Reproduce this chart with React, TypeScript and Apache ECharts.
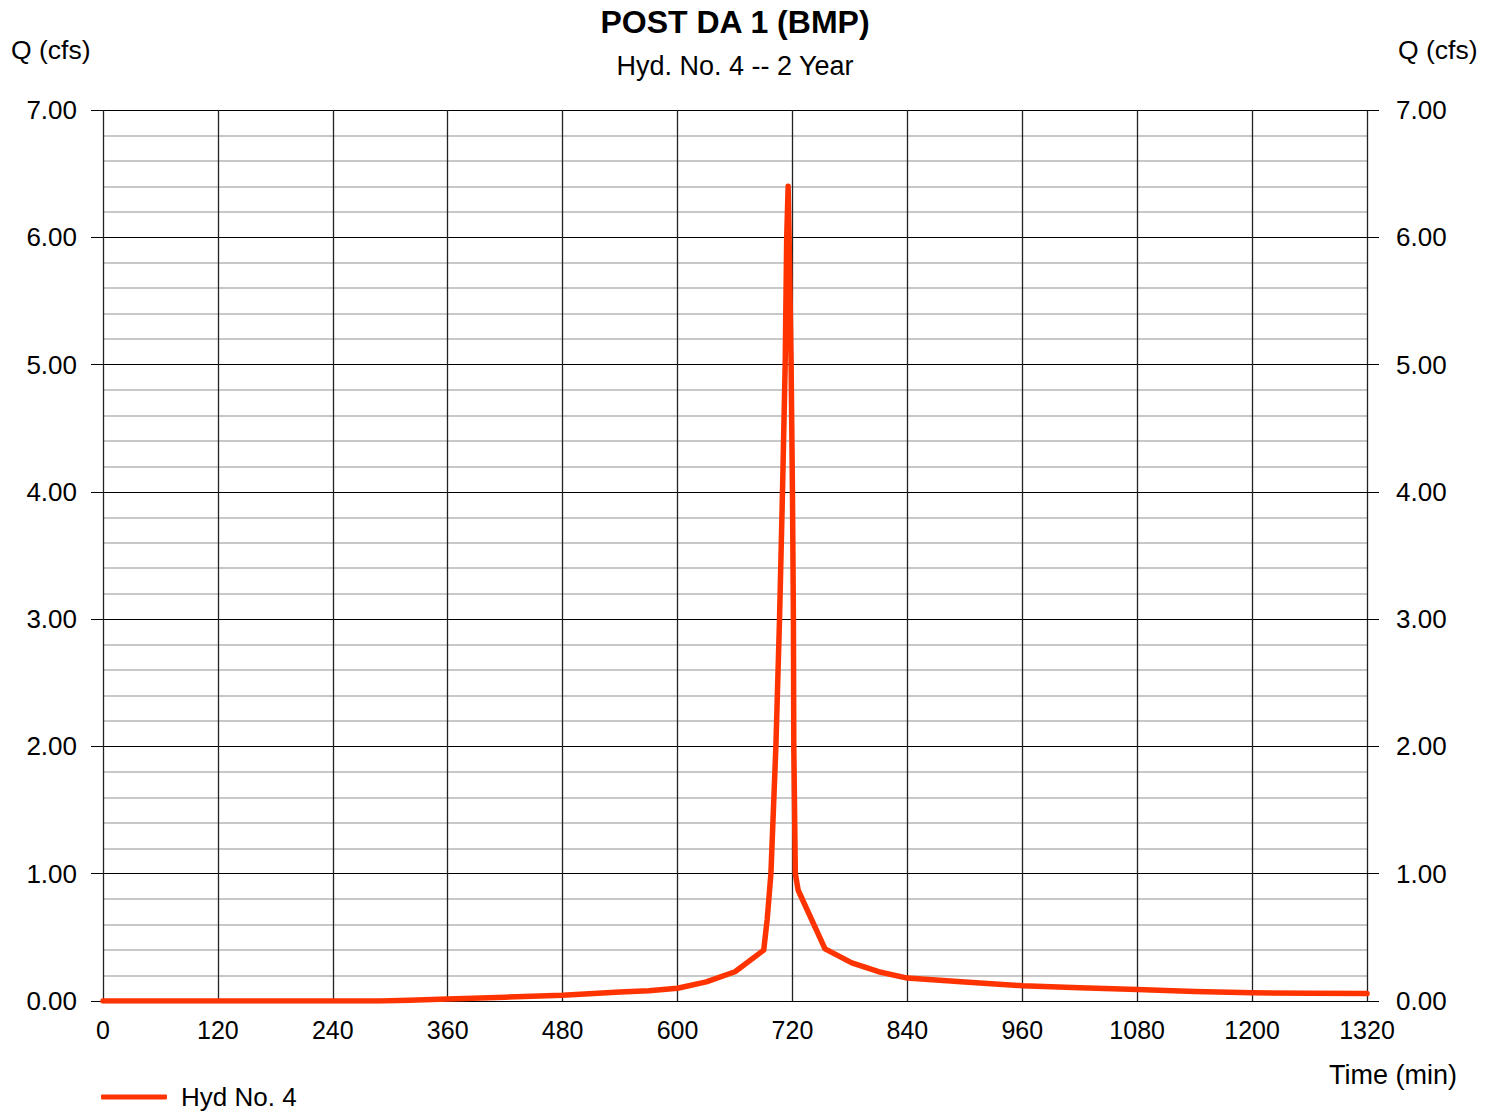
import React, { useEffect, useRef } from "react";
import * as echarts from "echarts";

const TITLE = "POST DA 1 (BMP)";
const SUBTITLE = "Hyd. No. 4 -- 2 Year";
const SERIES_NAME = "Hyd No. 4";

const timesMin = [
  0, 240, 290, 320, 360, 420, 480, 540, 570, 600, 630, 660, 690, 693.6, 697.5,
  702.7, 706.5, 709.6, 712.4, 714, 715.5, 716.5, 718.6, 720, 721, 721.4, 723,
  726, 754, 782, 810, 840, 900, 960, 1020, 1080, 1140, 1200, 1260, 1320,
];
const flowsCfs = [
  0, 0, 0, 0.005, 0.015, 0.03, 0.045, 0.07, 0.08, 0.1, 0.15, 0.23, 0.4, 0.64,
  1.0, 2.0, 3.0, 4.0, 5.0, 6.0, 6.4, 6.0, 5.0, 4.0, 3.0, 2.0, 1.0, 0.87, 0.41,
  0.3, 0.23, 0.18, 0.15, 0.12, 0.105, 0.09, 0.075, 0.065, 0.06, 0.058,
];

const X_MIN = 0;
const X_MAX = 1320;
const X_STEP = 120;
const Y_MIN = 0;
const Y_MAX = 7;
const Y_STEP = 1;

const FONT = "'Liberation Sans', Arial, Helvetica, sans-serif";

export default function App() {
  const ref = useRef<HTMLDivElement>(null);

  useEffect(() => {
    if (!ref.current) return;
    const chart = echarts.init(ref.current, null, { renderer: "svg" });
    const data = timesMin.map((t, i) => [t, flowsCfs[i]]);

    const yLabel = (v: number) => v.toFixed(2);
    const xLabel = (v: number) => String(v);

    chart.setOption({
      animation: false,
      backgroundColor: "#ffffff",
      textStyle: { fontFamily: FONT, color: "#000" },
      grid: { left: 103, right: 129, top: 110, bottom: 111, containLabel: false },
      legend: {
        left: 101,
        top: 1084,
        padding: 0,
        itemWidth: 66,
        itemHeight: 5,
        icon: "roundRect",
        data: [SERIES_NAME],
        textStyle: { fontFamily: FONT, fontSize: 26, color: "#000", padding: [0, 0, 0, 9] },
      },
      xAxis: {
        type: "value",
        min: X_MIN,
        max: X_MAX,
        interval: X_STEP,
        axisLine: { show: true, lineStyle: { color: "#000", width: 1 } },
        axisTick: { show: false },
        axisLabel: { margin: 16, fontFamily: FONT, fontSize: 25, color: "#000", formatter: xLabel },
        splitLine: { show: true, lineStyle: { color: "#222", width: 1.3 } },
      },
      yAxis: [
        {
          type: "value",
          min: Y_MIN,
          max: Y_MAX,
          interval: Y_STEP,
          position: "left",
          axisLine: { show: false },
          axisTick: { show: true, length: 12, lineStyle: { color: "#000", width: 1 } },
          axisLabel: { margin: 26, fontFamily: FONT, fontSize: 26, color: "#000", formatter: yLabel },
          splitLine: { show: true, lineStyle: { color: "#000", width: 1 } },
          minorTick: { show: false, splitNumber: 5 },
          minorSplitLine: { show: true, lineStyle: { color: "#c8c8c8", width: 2 } },
        },
        {
          type: "value",
          min: Y_MIN,
          max: Y_MAX,
          interval: Y_STEP,
          position: "right",
          axisLine: { show: false },
          axisTick: { show: true, length: 12, lineStyle: { color: "#000", width: 1 } },
          axisLabel: { margin: 29, fontFamily: FONT, fontSize: 26, color: "#000", formatter: yLabel },
          splitLine: { show: false },
        },
      ],
      graphic: [
        {
          type: "text",
          x: 735,
          y: 22,
          style: {
            text: TITLE,
            font: `bold 32px ${FONT}`,
            fill: "#000",
            textAlign: "center",
            textVerticalAlign: "middle",
          },
        },
        {
          type: "text",
          x: 735,
          y: 66,
          style: {
            text: SUBTITLE,
            font: `27px ${FONT}`,
            fill: "#000",
            textAlign: "center",
            textVerticalAlign: "middle",
          },
        },
        { type: "text", x: 11, y: 50, style: { text: "Q (cfs)", font: `26.5px ${FONT}`, fill: "#000", textVerticalAlign: "middle" } },
        { type: "text", x: 1398, y: 50, style: { text: "Q (cfs)", font: `26.5px ${FONT}`, fill: "#000", textVerticalAlign: "middle" } },
        { type: "text", x: 1329, y: 1075, style: { text: "Time (min)", font: `27px ${FONT}`, fill: "#000", textVerticalAlign: "middle" } },
      ],
      series: [
        {
          name: SERIES_NAME,
          type: "line",
          data,
          yAxisIndex: 0,
          showSymbol: false,
          symbol: "none",
          smooth: false,
          z: 5,
          lineStyle: { color: "#ff3300", width: 5.5, cap: "round", join: "round" },
          itemStyle: { color: "#ff3300" },
        },
      ],
    });

    return () => chart.dispose();
  }, []);

  return (
    <div
      ref={ref}
      style={{ position: "absolute", left: 0, top: 0, width: 1496, height: 1112 }}
    />
  );
}
